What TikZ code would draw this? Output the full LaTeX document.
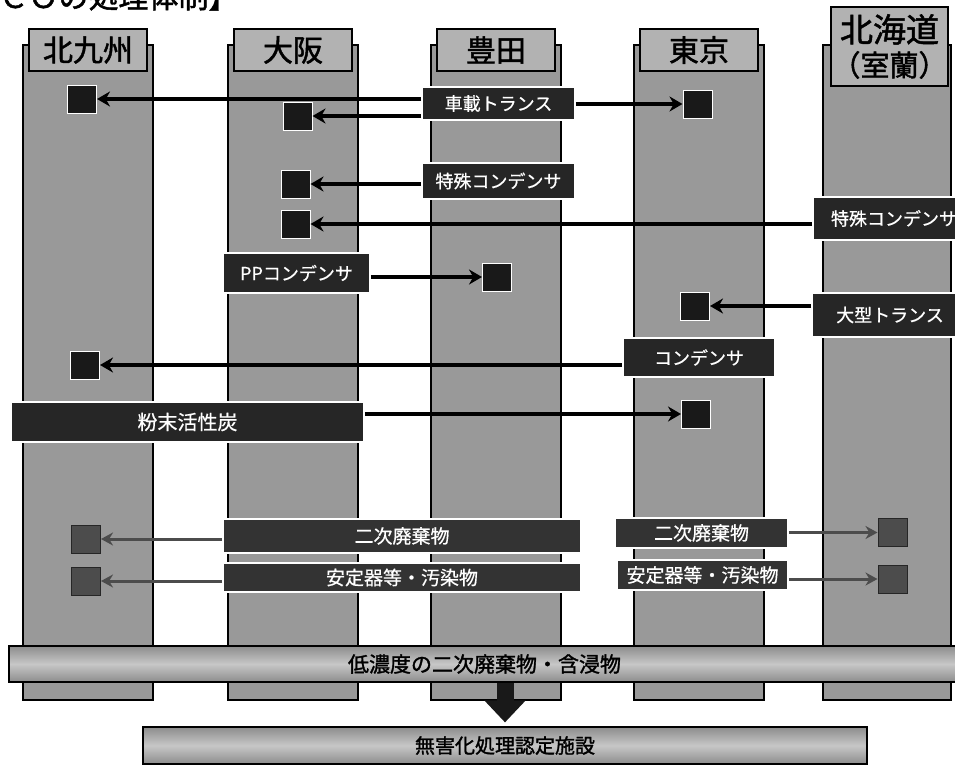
\documentclass[tikz,border=0pt]{standalone}
\usepackage{fontspec}
\setmainfont{Noto Sans CJK JP}
\newfontfamily\jpbold[FakeBold=1.5]{Noto Sans CJK JP}
\newfontfamily\jpmed[FakeBold=0.6]{Noto Sans CJK JP}
\usetikzlibrary{calc, arrows.meta}

\tikzset{
  colbody/.style={draw=black, line width=1.2pt, fill=black!40},
  coltab/.style={draw=black, line width=1.2pt, fill=black!30, inner sep=0pt, font=\jpbold\fontsize{30}{34}\selectfont},
  lbl/.style={draw=white, line width=1.8pt, fill=black!85, text=white, inner sep=0pt, font=\jpmed\fontsize{18}{20}\selectfont},
  lbllow/.style={lbl, fill=black!80, font=\jpmed\fontsize{19}{21}\selectfont},
  sq/.style={draw=white, line width=1pt, fill=black!90, minimum width=29pt, minimum height=28pt, inner sep=0pt},
  sqlow/.style={sq, draw=black!85, fill=black!70},
  arr/.style={line width=3.5pt, -{Stealth[length=13pt,width=15pt]}},
  arrlow/.style={line width=3pt, draw=black!70, -{Stealth[length=12pt,width=13pt]}},
  bar/.style={draw=black, line width=1.2pt, top color=black!45, bottom color=black!45, middle color=black!22, inner sep=0pt, font=\jpbold\fontsize{21}{23}\selectfont}
}

\begin{document}
\begin{tikzpicture}[x=1pt, y=-1pt]
\useasboundingbox (0,0) rectangle (955,769);
\node[anchor=base east, font=\jpbold\fontsize{30}{32}\selectfont] (ttl) at (242,8) {【ＪＥＳＣＯの処理体制】};

\foreach \n/\xa/\t in {kyu/23/北九州, osk/228/大阪, toy/431/豊田, tky/634/東京} {
    \draw[colbody] (\xa,45) rectangle ++(130,655);
    \node[coltab, minimum width=118, minimum height=42] (\n) at (\xa+65,50) {\t};
}
\draw[colbody] (823,45) rectangle (951,700);
\node[coltab, minimum width=117, minimum height=79, align=center] (hok) at (889.5,46.5)
    {{\fontsize{33}{36}\selectfont 北海道}\\{\fontsize{29}{34}\selectfont （室蘭）}};

\node[lbl, minimum width=153, minimum height=33] (trans) at (498.5,103.5) {車載トランス};
\node[lbl, minimum width=153, minimum height=36] (tkc) at (498.5,181) {特殊コンデンサ};
\node[lbl, minimum width=162, minimum height=43] (tkc2) at (894,218.5) {特殊コンデンサ};
\node[lbl, minimum width=147, minimum height=40] (ppc) at (296.5,273) {PPコンデンサ};
\node[lbl, minimum width=156, minimum height=44] (ogt) at (890,315) {大型トランス};
\node[lbl, minimum width=152, minimum height=39] (cds) at (699,357.5) {コンデンサ};
\node[lbl, minimum width=353, minimum height=40, font=\jpmed\fontsize{20}{22}\selectfont] (fmk) at (187.5,422) {粉末活性炭};
\node[lbllow, minimum width=358, minimum height=34] (nji) at (402,536) {二次廃棄物};
\node[lbllow, minimum width=358, minimum height=29] (ant) at (402,577.5) {安定器等・汚染物};
\node[lbllow, minimum width=173, minimum height=30] (nji2) at (701.5,533) {二次廃棄物};
\node[lbllow, minimum width=171, minimum height=30] (ant2) at (702.5,575) {安定器等・汚染物};

\foreach \n/\x/\y in {s1/82/99, s2/297.5/116, s3/697.5/104, s4/295.5/184, s5/295.5/224, s6/497/277, s7/695/306, s8/85/365, s9/696/414} {
    \node[sq] (\n) at (\x,\y) {};
}
\foreach \n/\x/\y in {s10/86/539, s11/86/581, s12/892.5/532.5, s13/892.5/579} {
    \node[sqlow] (\n) at (\x,\y) {};
}

\draw[arr] (trans.west |- s1) -- (s1);
\draw[arr] (trans.west |- s2) -- (s2);
\draw[arr] (trans.east |- s3) -- (s3);
\draw[arr] (tkc.west |- s4) -- (s4);
\draw[arr] (tkc2.west |- s5) -- (s5);
\draw[arr] (ppc.east |- s6) -- (s6);
\draw[arr] (ogt.west |- s7) -- (s7);
\draw[arr] (cds.west |- s8) -- (s8);
\draw[arr] (fmk.east |- s9) -- (s9);
\draw[arrlow] (nji.west |- s10) -- (s10);
\draw[arrlow] (ant.west |- s11) -- (s11);
\draw[arrlow] (nji2.east |- s12) -- (s12);
\draw[arrlow] (ant2.east |- s13) -- (s13);

\node[bar, minimum width=951, minimum height=36] (low) at (484.5,664) {低濃度の二次廃棄物・含浸物};
\node[bar, minimum width=724, minimum height=37, font=\jpbold\fontsize{20}{22}\selectfont] (fin) at (505,745.5) {無害化処理認定施設};
\draw [line width=17pt, black!90, -{Triangle[length=22pt,width=40pt]}] (fin.north |- low.south) -- ([yshift=4pt]fin.north);
\end{tikzpicture}
\end{document}
